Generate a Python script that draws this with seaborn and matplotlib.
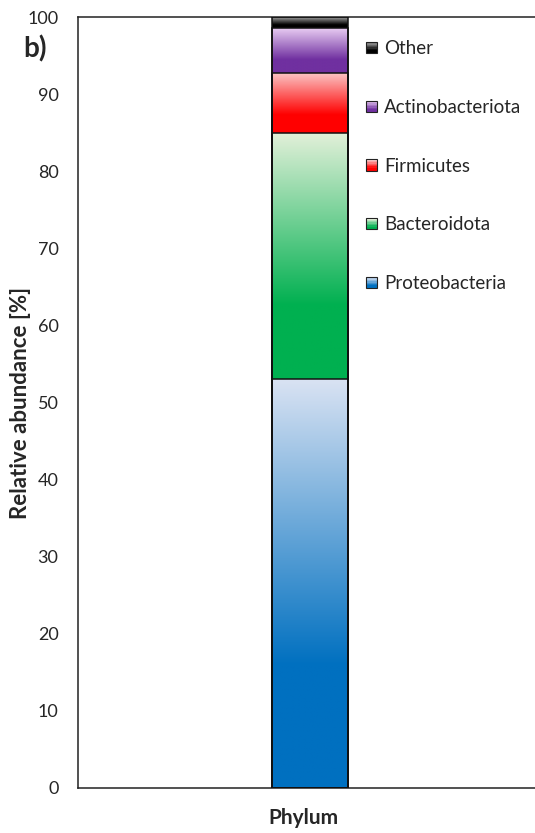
import numpy as np
import pandas as pd
import matplotlib
matplotlib.use("Agg")
import matplotlib.pyplot as plt
import seaborn as sns
from matplotlib.colors import to_rgb
from matplotlib.legend_handler import HandlerBase
from matplotlib.patches import Rectangle

categories = ["Phylum"]
taxa = ["Proteobacteria", "Bacteroidota", "Firmicutes", "Actinobacteriota", "Other"]
abundance = [53.1, 31.9, 7.8, 5.8, 1.4]
dark_colors = ["#0070C0", "#00B050", "#FF0000", "#7030A0", "#000000"]
light_colors = ["#DAE3F3", "#E2F0D9", "#FBC9C9", "#E8CCF2", "#A0A0A0"]
yticks = list(range(0, 101, 10))

sns.set_theme(style="white")
plt.rcParams['font.family'] = ['Lato', 'DejaVu Sans']

W, H = 535, 833
fig = plt.figure(figsize=(W / 100, H / 100), dpi=100)
ax = fig.add_axes([78 / W, 1 - 788 / H, 1 - 78 / W, (788 - 17) / H])

cum = np.cumsum(abundance)
bottoms = cum - np.array(abundance)
df = pd.DataFrame({"cat": categories * len(taxa), "taxon": taxa, "top": cum})

# draw cumulative bars (outlines only), tallest first
seg_patches = {}
for i in reversed(range(len(taxa))):
    n_before = len(ax.patches)
    sns.barplot(data=df[df.taxon == taxa[i]], x="cat", y="top", color=dark_colors[i],
                width=0.166, ax=ax, saturation=1, edgecolor="#111111", linewidth=1.1,
                zorder=3)
    p = ax.patches[n_before]
    p.set_facecolor("none")
    seg_patches[i] = p


def gradient(light, dark, n=300, stop=0.7):
    l = np.array(to_rgb(light))
    d = np.array(to_rgb(dark))
    t = np.linspace(0, 1, n)
    f = np.clip(t / stop, 0, 1)[:, None]
    return (l + (d - l) * f)[:, None, :]


for i in range(len(taxa)):
    p = seg_patches[i]
    x0 = p.get_x()
    x1 = x0 + p.get_width()
    ax.imshow(gradient(light_colors[i], dark_colors[i]), extent=(x0, x1, bottoms[i], cum[i]),
              aspect="auto", origin="upper", zorder=2, interpolation="bilinear")

ax.set_xlim(-0.508, 0.492)
ax.set_ylim(0, 100)
ax.set_yticks(yticks)
ax.set_yticklabels([str(v) for v in yticks], fontsize=13)
ax.tick_params(axis="y", length=0, pad=14)
ax.set_xticks([])
ax.set_xlabel("Phylum", fontsize=15, fontweight="bold")
ax.xaxis.set_label_coords((303 - 78) / 457, -(818 - 788) / 771)
ax.xaxis.label.set_va("center")
ax.set_ylabel("Relative abundance [%]", fontsize=16, fontweight="bold")
ax.yaxis.set_label_coords((21 - 78) / 457, 0.5)
ax.yaxis.label.set_va("center")
for s in ["left", "top", "bottom"]:
    ax.spines[s].set_visible(True)
    ax.spines[s].set_color("#222222")
    ax.spines[s].set_linewidth(1.1)
ax.spines["right"].set_visible(False)


class GradHandler(HandlerBase):
    def __init__(self, light, dark):
        super().__init__()
        self.light = light
        self.dark = dark

    def create_artists(self, legend, orig_handle, xdescent, ydescent, width, height,
                       fontsize, trans):
        s = min(width, height)
        x = -xdescent
        y = -ydescent + (height - s) / 2
        arts = []
        n = 8
        g = gradient(self.light, self.dark, n=n, stop=0.8)
        for k in range(n):
            r = Rectangle((x, y + s - (k + 1) * s / n), s, s / n, facecolor=g[k, 0],
                          edgecolor="none", transform=trans)
            arts.append(r)
        arts.append(Rectangle((x, y), s, s, facecolor="none", edgecolor="#222222",
                              linewidth=0.8, transform=trans))
        return arts


handles = [Rectangle((0, 0), 1, 1) for _ in taxa]
hmap = {handles[i]: GradHandler(light_colors[i], dark_colors[i]) for i in range(len(taxa))}
order = list(reversed(range(len(taxa))))
ax.legend([handles[i] for i in order], [taxa[i] for i in order], handler_map=hmap,
          loc="upper left", bbox_to_anchor=(366 / W, 1 - 40 / H), bbox_transform=fig.transFigure,
          frameon=False, fontsize=13.5, labelspacing=2.23, handlelength=0.6, handleheight=0.6,
          handletextpad=0.35, borderpad=0, borderaxespad=0)

fig.text(23 / W, 1 - 49 / H, "b)", fontsize=20, fontweight="bold", va="center", ha="left")

fig.savefig("out.png", dpi=100)
